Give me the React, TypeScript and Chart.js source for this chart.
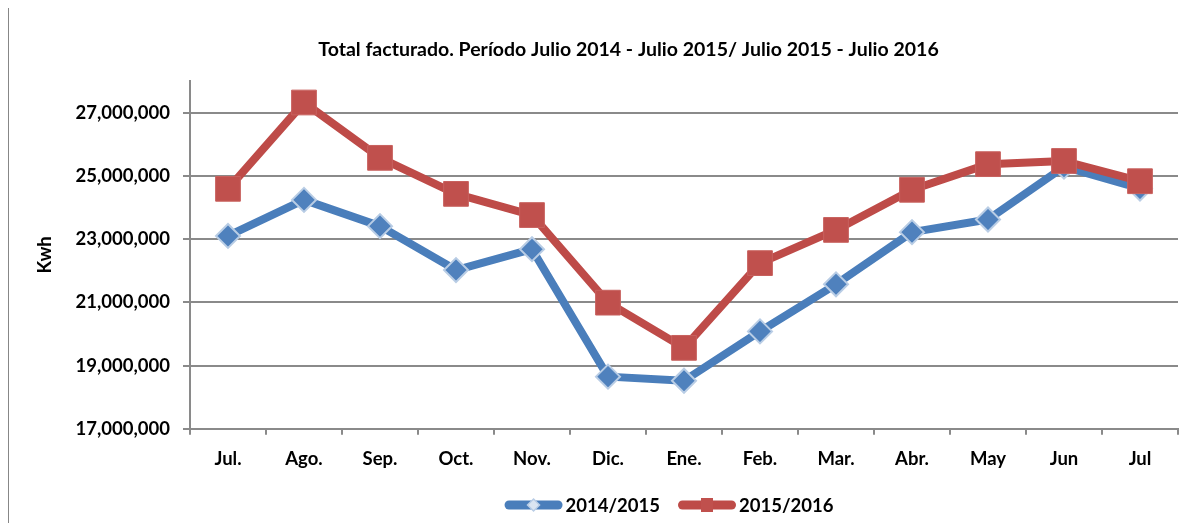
import React, { useEffect, useRef } from "react";
import { Chart, registerables } from "chart.js";

Chart.register(...registerables);

const FONT = "Lato, 'Open Sans', sans-serif";
const GRID = "#8a8a8a";

const titleText = "Total facturado. Período Julio 2014 - Julio 2015/ Julio 2015 - Julio 2016";
const categories = ["Jul.", "Ago.", "Sep.", "Oct.", "Nov.", "Dic.", "Ene.", "Feb.", "Mar.", "Abr.", "May", "Jun", "Jul"];
const series2014_2015 = [23100000, 24240000, 23410000, 22020000, 22680000, 18650000, 18520000, 20080000, 21570000, 23220000, 23620000, 25290000, 24600000];
const series2015_2016 = [24590000, 27320000, 25570000, 24430000, 23760000, 20990000, 19560000, 22240000, 23290000, 24560000, 25370000, 25470000, 24830000];
const yTickValues = [17000000, 19000000, 21000000, 23000000, 25000000, 27000000];
const seriesLabels = ["2014/2015", "2015/2016"];

const titlePlugin = {
  id: "offsetTitle",
  afterDraw(chart: any) {
    const ctx = chart.ctx as CanvasRenderingContext2D;
    const area = chart.chartArea;
    ctx.save();
    ctx.font = `bold 19.5px ${FONT}`;
    ctx.textAlign = "center";
    ctx.textBaseline = "middle";
    ctx.fillStyle = "#000";
    ctx.fillText(titleText, (area.left + area.right) / 2 - 55.5, 42);
    ctx.restore();
  },
};

const legendPlugin = {
  id: "lineLegend",
  afterDraw(chart: any) {
    const ctx = chart.ctx as CanvasRenderingContext2D;
    const area = chart.chartArea;
    const y = chart.height - 18;
    ctx.save();
    ctx.font = `bold 18.5px ${FONT}`;
    ctx.textBaseline = "middle";
    ctx.fillStyle = "#000";
    const lineW = 58;
    const gap = 3;
    const itemGap = 18;
    const widths = seriesLabels.map((t) => lineW + gap + ctx.measureText(t).width);
    const total = widths.reduce((a, b) => a + b, 0) + itemGap;
    let x = (area.left + area.right) / 2 - 15 - total / 2;
    chart.data.datasets.forEach((ds: any, i: number) => {
      ctx.lineCap = "round";
      ctx.lineWidth = 9;
      ctx.strokeStyle = ds.borderColor;
      ctx.beginPath();
      ctx.moveTo(x + 4.5, y);
      ctx.lineTo(x + lineW - 4.5, y);
      ctx.stroke();
      const cx = x + lineW / 2;
      if (i === 0) {
        ctx.beginPath();
        ctx.moveTo(cx, y - 6);
        ctx.lineTo(cx + 6, y);
        ctx.lineTo(cx, y + 6);
        ctx.lineTo(cx - 6, y);
        ctx.closePath();
        ctx.fillStyle = "#dbe5f1";
        ctx.fill();
        ctx.lineWidth = 1.5;
        ctx.strokeStyle = "#b9cde5";
        ctx.stroke();
      } else {
        ctx.fillStyle = "#c0504d";
        ctx.fillRect(cx - 6, y - 7, 12, 14);
      }
      ctx.fillStyle = "#000";
      ctx.fillText(seriesLabels[i], x + lineW + gap, y + 1);
      x += widths[i] + itemGap;
    });
    ctx.restore();
  },
};

export default function App() {
  const ref = useRef<HTMLCanvasElement | null>(null);
  useEffect(() => {
    if (!ref.current) return;
    const tickFont = { family: FONT, size: 18.5, weight: "bold" as const };
    const chart = new Chart(ref.current, {
      type: "line",
      data: {
        labels: categories,
        datasets: [
          {
            label: seriesLabels[0],
            data: series2014_2015,
            borderColor: "#4a7ebb",
            backgroundColor: "#4f81bd",
            borderWidth: 8,
            borderJoinStyle: "round",
            borderCapStyle: "round",
            tension: 0,
            pointStyle: "rectRot",
            pointRadius: 12,
            pointHoverRadius: 12,
            pointBackgroundColor: "#4f81bd",
            pointBorderColor: "#b9cde5",
            pointBorderWidth: 2,
            order: 2,
          },
          {
            label: seriesLabels[1],
            data: series2015_2016,
            borderColor: "#be4b48",
            backgroundColor: "#c0504d",
            borderWidth: 8,
            borderJoinStyle: "round",
            borderCapStyle: "round",
            tension: 0,
            pointStyle: "rect",
            pointRadius: 17.5,
            pointHoverRadius: 17.5,
            pointBackgroundColor: "#c0504d",
            pointBorderColor: "#c8615e",
            pointBorderWidth: 1,
            order: 1,
          },
        ],
      },
      options: {
        animation: false,
        responsive: false,
        events: [],
        layout: { padding: { left: 0, right: 26, top: 73, bottom: 40 } },
        plugins: {
          legend: { display: false },
          tooltip: { enabled: false },
          title: { display: false },
        },
        scales: {
          x: {
            offset: true,
            grid: {
              offset: true,
              drawOnChartArea: false,
              drawTicks: true,
              tickLength: 6,
              color: GRID,
              lineWidth: 2,
            },
            border: { color: GRID, width: 2 },
            ticks: { font: tickFont, color: "#000", padding: 13, maxRotation: 0, autoSkip: false },
          },
          y: {
            min: 17000000,
            max: 28000000,
            afterBuildTicks: (scale: any) => {
              scale.ticks = yTickValues.map((v) => ({ value: v }));
            },
            afterFit: (scale: any) => {
              scale.width = 181;
            },
            grid: { color: GRID, lineWidth: 2, tickLength: 7, drawTicks: true },
            border: { color: GRID, width: 2 },
            ticks: {
              font: tickFont,
              color: "#000",
              padding: 13,
              callback: (v: any) => Number(v).toLocaleString("en-US"),
            },
            title: {
              display: true,
              text: "Kwh",
              color: "#000",
              font: tickFont,
              padding: { top: 25, bottom: 0 },
            },
          },
        },
      },
      plugins: [titlePlugin, legendPlugin],
    });
    return () => chart.destroy();
  }, []);
  return (
    <div
      style={{
        marginTop: -1,
        width: 1195,
        height: 515,
        borderLeft: "1px solid #878787",
        borderTop: "1px solid #878787",
        background: "#fff",
      }}
    >
      <canvas ref={ref} width={1195} height={515} style={{ display: "block" }} />
    </div>
  );
}
